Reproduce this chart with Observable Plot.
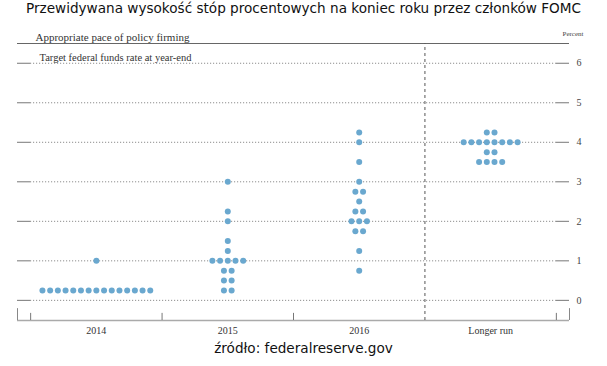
<!DOCTYPE html>
<html>
<head>
<meta charset="utf-8">
<script src="https://cdn.jsdelivr.net/npm/d3@7"></script>
<script src="https://cdn.jsdelivr.net/npm/@observablehq/plot@0.6"></script>
<style>
  html, body { margin: 0; padding: 0; background: #fff; }
  #wrap { width: 607px; height: 366px; overflow: hidden; }
  .title { height: 26px; line-height: 26px; text-align: center; font: 13.6px "DejaVu Sans", Verdana, sans-serif; color: #111; white-space: nowrap; }
  .caption { height: 26px; line-height: 24px; text-align: center; font: 13.6px "DejaVu Sans", Verdana, sans-serif; color: #111; }
  svg { display: block; }
</style>
</head>
<body>
<div id="wrap">
  <div class="title">Przewidywana wysokość stóp procentowych na koniec roku przez członków FOMC</div>
  <div id="chart"></div>
  <div class="caption">źródło: federalreserve.gov</div>
</div>
<script>
// ---- data ----
const categories = ["2014", "2015", "2016", "Longer run"];
const projections2014 = [0.25,0.25,0.25,0.25,0.25,0.25,0.25,0.25,0.25,0.25,0.25,0.25,0.25,0.25,0.25, 1.0];
const projections2015 = [0.25,0.25, 0.5,0.5, 0.75,0.75, 1,1,1,1,1, 1.25, 1.5, 2, 2.25, 3];
const projections2016 = [0.75, 1.25, 1.75,1.75, 2,2,2, 2.25,2.25, 2.5, 2.75,2.75, 3, 3.5, 4, 4.25];
const projectionsLonger = [3.5,3.5,3.5,3.5, 3.75,3.75, 4,4,4,4,4,4,4,4, 4.25,4.25];
const yTicks = [0, 1, 2, 3, 4, 5, 6];
const titleTop = "Appropriate pace of policy firming";
const subTitle = "Target federal funds rate at year-end";
const unitLabel = "Percent";

// ---- layout helpers ----
const X_MIN = -0.6, X_MAX = 3.6;     // frame extent (category index units)
const Y_MIN = -0.51, Y_MAX = 6.5;    // frame extent (percent)
const DOT_STEP = 0.0586;             // horizontal spacing between equal dots
const boundaries = [-0.5, 0.5, 1.5, 3.5];
const divider = 2.5;

const groups = [projections2014, projections2015, projections2016, projectionsLonger];
const dots = [];
groups.forEach((vals, ci) => {
  const counts = d3.rollup(vals, v => v.length, d => d);
  const seen = new Map();
  vals.forEach(v => {
    const n = counts.get(v);
    const k = seen.get(v) || 0;
    seen.set(v, k + 1);
    dots.push({cat: categories[ci], rate: v, x: ci + (k - (n - 1) / 2) * DOT_STEP});
  });
});

const serif = "'Liberation Serif', 'DejaVu Serif', serif";

const chart = Plot.plot({
  width: 607,
  height: 314,
  marginTop: 17,
  marginBottom: 20,
  marginLeft: 17,
  marginRight: 38,
  x: {domain: [X_MIN, X_MAX], axis: null},
  y: {domain: [Y_MIN, Y_MAX], axis: null},
  style: {background: "white", overflow: "visible"},
  marks: [
    // dotted grid lines
    Plot.ruleY(yTicks, {x1: boundaries[0], x2: boundaries[3], stroke: "#7a7a7a", strokeWidth: 1, strokeDasharray: "1 2"}),
    // solid tick stubs on both sides
    Plot.ruleY(yTicks, {x1: X_MIN, x2: boundaries[0], stroke: "#777", strokeWidth: 1}),
    Plot.ruleY(yTicks, {x1: boundaries[3], x2: X_MAX, stroke: "#777", strokeWidth: 1}),
    // top rule
    Plot.ruleY([Y_MAX], {x1: X_MIN, x2: X_MAX, stroke: "#666", strokeWidth: 1}),
    // bottom axis line
    Plot.ruleY([Y_MIN], {x1: X_MIN, x2: X_MAX, stroke: "#aaa", strokeWidth: 1.5}),
    // category boundary ticks
    Plot.ruleX(boundaries, {y1: Y_MIN, y2: Y_MIN + 0.18, stroke: "#777", strokeWidth: 1}),
    Plot.ruleX([X_MIN, X_MAX], {y1: Y_MIN, y2: Y_MIN + 0.3, stroke: "#888", strokeWidth: 1}),
    // dashed divider before "Longer run"
    Plot.ruleX([divider], {y1: Y_MIN, y2: Y_MAX, stroke: "#555", strokeWidth: 1, strokeDasharray: "3 3"}),
    // participants' dots
    Plot.dot(dots, {x: "x", y: "rate", r: 3, fill: "#6aa8cf", stroke: "none"}),
    // y labels on the right
    Plot.text(yTicks, {x: X_MAX, y: d => d, dx: 7, text: d => String(d), textAnchor: "start", fontFamily: serif, fontSize: 10, fill: "#444"}),
    // category labels
    Plot.text(categories, {x: (d, i) => i, y: Y_MIN, dy: 10, text: d => d, fontFamily: serif, fontSize: 10, fill: "#333"}),
    // headings
    Plot.text([titleTop], {frameAnchor: "top-left", dx: 18, dy: -10, text: d => d, textAnchor: "start", fontFamily: serif, fontSize: 11, fill: "#333"}),
    Plot.text([subTitle], {frameAnchor: "top-left", dx: 22, dy: 10, text: d => d, textAnchor: "start", fontFamily: serif, fontSize: 10.5, fill: "#333"}),
    Plot.text([unitLabel], {frameAnchor: "top-right", dx: 14, dy: -12, text: d => d, textAnchor: "end", fontFamily: serif, fontSize: 7, fill: "#444"})
  ]
});
document.getElementById("chart").appendChild(chart);
</script>
</body>
</html>
